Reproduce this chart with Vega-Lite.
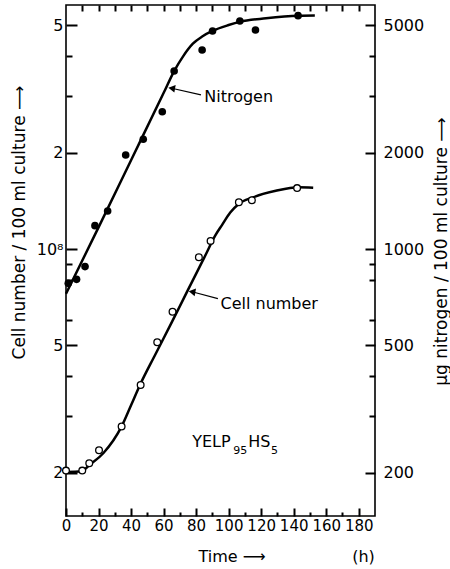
{
  "$schema": "https://vega.github.io/schema/vega-lite/v6.json",
  "width": 309,
  "height": 511,
  "autosize": {"type": "none"},
  "padding": {"left": 66, "top": 5, "right": 75, "bottom": 53},
  "background": "white",
  "config": {
    "font": "DejaVu Sans",
    "view": {"stroke": "black", "strokeWidth": 1.6},
    "axis": {
      "grid": false,
      "labelFont": "DejaVu Sans",
      "titleFont": "DejaVu Sans",
      "labelColor": "black",
      "titleColor": "black",
      "labelFontSize": 16,
      "titleFontSize": 17,
      "titleFontWeight": "normal",
      "labelOverlap": false
    }
  },
  "datasets": {
    "cellObs": [
      {"t": 0, "v": 2.03e7}, {"t": 10, "v": 2.03e7}, {"t": 14.3, "v": 2.14e7},
      {"t": 20.3, "v": 2.35e7}, {"t": 34.2, "v": 2.79e7}, {"t": 45.9, "v": 3.76e7},
      {"t": 56.1, "v": 5.11e7}, {"t": 65.5, "v": 6.37e7}, {"t": 81.7, "v": 9.42e7},
      {"t": 88.9, "v": 1.06e8}, {"t": 106.3, "v": 1.40e8}, {"t": 114.3, "v": 1.42e8},
      {"t": 142.1, "v": 1.55e8}
    ],
    "cellFit": [
      {"t": 0, "v": 2.01e7}, {"t": 9.6, "v": 2.02e7}, {"t": 14.7, "v": 2.12e7},
      {"t": 22.9, "v": 2.30e7}, {"t": 34.2, "v": 2.79e7}, {"t": 40, "v": 3.25e7},
      {"t": 45.5, "v": 3.76e7}, {"t": 55, "v": 4.69e7}, {"t": 65, "v": 5.90e7},
      {"t": 75, "v": 7.45e7}, {"t": 85, "v": 9.40e7}, {"t": 92, "v": 1.107e8},
      {"t": 96, "v": 1.19e8}, {"t": 101, "v": 1.30e8}, {"t": 106, "v": 1.38e8},
      {"t": 115, "v": 1.45e8}, {"t": 129, "v": 1.52e8}, {"t": 143, "v": 1.56e8},
      {"t": 152, "v": 1.555e8}
    ],
    "nitroObs": [
      {"t": 1.4, "v": 781}, {"t": 6.5, "v": 804}, {"t": 11.7, "v": 881},
      {"t": 17.8, "v": 1183}, {"t": 25.6, "v": 1314}, {"t": 36.7, "v": 1966},
      {"t": 47.5, "v": 2203}, {"t": 59.2, "v": 2685}, {"t": 66.5, "v": 3598},
      {"t": 83.7, "v": 4188}, {"t": 90.1, "v": 4801}, {"t": 106.9, "v": 5158},
      {"t": 116.5, "v": 4834}, {"t": 142.7, "v": 5360}
    ],
    "nitroFit": [
      {"t": 0, "v": 725}, {"t": 20, "v": 1168}, {"t": 40, "v": 1894},
      {"t": 60, "v": 3072}, {"t": 66.5, "v": 3598}, {"t": 72, "v": 4000},
      {"t": 78, "v": 4380}, {"t": 84, "v": 4620}, {"t": 90, "v": 4800},
      {"t": 100, "v": 5010}, {"t": 107, "v": 5130}, {"t": 123, "v": 5260},
      {"t": 143, "v": 5360}, {"t": 153, "v": 5370}
    ],
    "notes": [
      {"t": 85, "v": 2.99e8, "txt": "Nitrogen"},
      {"t": 95, "v": 6.73e7, "txt": "Cell number"},
      {"t": 77.6, "v": 2.5e7, "txt": "YELP"},
      {"t": 112.0, "v": 2.5e7, "txt": "HS"}
    ],
    "subs": [
      {"t": 102.8, "v": 2.33e7, "txt": "95"},
      {"t": 126, "v": 2.33e7, "txt": "5"}
    ],
    "arrows": [
      {"t": 83, "v": 3.03e8, "t2": 65, "v2": 3.18e8},
      {"t": 93.4, "v": 7.0e7, "t2": 77.5, "v2": 7.35e7}
    ],
    "heads": [
      {"t": 65, "v": 3.18e8},
      {"t": 77.5, "v": 7.35e7}
    ]
  },
  "resolve": {
    "scale": {"y": "independent"},
    "axis": {"x": "independent", "y": "independent"}
  },
  "layer": [
    {
      "data": {"name": "cellFit"},
      "mark": {"type": "line", "color": "black", "strokeWidth": 2.5, "interpolate": "monotone"},
      "encoding": {
        "x": {"field": "t", "type": "quantitative",
              "scale": {"domain": [0, 190], "nice": false, "zero": false}, "axis": null},
        "y": {"field": "v", "type": "quantitative",
              "scale": {"type": "log", "domain": [1.4645e7, 5.787e8], "nice": false}, "axis": null}
      }
    },
    {
      "data": {"name": "nitroFit"},
      "mark": {"type": "line", "color": "black", "strokeWidth": 2.5, "interpolate": "monotone"},
      "encoding": {
        "x": {"field": "t", "type": "quantitative",
              "scale": {"domain": [0, 190], "nice": false, "zero": false}, "axis": null},
        "y": {"field": "v", "type": "quantitative",
              "scale": {"type": "log", "domain": [146.45, 5787], "nice": false}, "axis": null}
      }
    },
    {
      "data": {"name": "cellObs"},
      "mark": {"type": "point", "shape": "circle", "filled": true, "fill": "white", "stroke": "black", "strokeWidth": 1.3, "size": 45, "opacity": 1},
      "encoding": {
        "x": {"field": "t", "type": "quantitative",
              "scale": {"domain": [0, 190], "nice": false, "zero": false},
              "axis": {"orient": "bottom", "values": [0, 20, 40, 60, 80, 100, 120, 140, 160, 180],
                       "domain": false, "tickSize": -8, "tickColor": "black", "tickWidth": 2, "labelPadding": 10, "labelFontSize": 15, "labelFlush": false,
                       "title": "Time ⟶\u00a0\u00a0\u00a0\u00a0\u00a0\u00a0\u00a0\u00a0\u00a0\u00a0\u00a0\u00a0\u00a0\u00a0\u00a0\u00a0\u00a0(h)", "titleFontSize": 16,
                       "titleX": 132, "titleY": 40, "titleAlign": "left", "titleBaseline": "middle"}},
        "y": {"field": "v", "type": "quantitative",
              "scale": {"type": "log", "domain": [1.4645e7, 5.787e8], "nice": false},
              "axis": {"orient": "left", "values": [2e7, 5e7, 1e8, 2e8, 5e8],
                       "domain": false, "tickSize": -11, "tickColor": "black", "tickWidth": 2, "labelPadding": 14,
                       "labelExpr": "datum.value == 1e8 ? '10⁸' : ((datum.value == 2e7 || datum.value == 2e8) ? '2' : '5')",
                       "title": "Cell number / 100 ml culture ⟶",
                       "titleX": -47, "titleY": 217, "titleAngle": 270, "titleAlign": "center", "titleBaseline": "middle"}}
      }
    },
    {
      "data": {"name": "nitroObs"},
      "mark": {"type": "point", "shape": "circle", "filled": true, "color": "black", "size": 58, "opacity": 1},
      "encoding": {
        "x": {"field": "t", "type": "quantitative",
              "scale": {"domain": [0, 190], "nice": false, "zero": false},
              "axis": {"orient": "top", "values": [10, 20, 30, 40, 50, 60, 70, 80, 90, 100, 110, 120, 130, 140, 150, 160, 170, 180],
                       "domain": false, "tickSize": -6, "tickColor": "black", "tickWidth": 2, "labels": false, "title": null}},
        "y": {"field": "v", "type": "quantitative",
              "scale": {"type": "log", "domain": [146.45, 5787], "nice": false},
              "axis": {"orient": "right", "values": [200, 500, 1000, 2000, 5000], "format": "d",
                       "domain": false, "tickSize": -10, "tickColor": "black", "tickWidth": 2, "labelPadding": 18,
                       "title": "µg nitrogen / 100 ml culture ⟶",
                       "titleX": 66, "titleY": 246, "titleAngle": 270, "titleAlign": "center", "titleBaseline": "middle"}}
      }
    },
    {
      "data": {"name": "arrows"},
      "mark": {"type": "rule", "color": "black", "strokeWidth": 1.2},
      "encoding": {
        "x": {"field": "t", "type": "quantitative", "scale": {"domain": [0, 190], "nice": false, "zero": false}, "axis": null},
        "x2": {"field": "t2"},
        "y": {"field": "v", "type": "quantitative", "scale": {"type": "log", "domain": [1.4645e7, 5.787e8], "nice": false}, "axis": null},
        "y2": {"field": "v2"}
      }
    },
    {
      "data": {"name": "heads"},
      "mark": {"type": "point", "shape": "triangle-left", "filled": true, "color": "black", "size": 60, "angle": 10, "opacity": 1},
      "encoding": {
        "x": {"field": "t", "type": "quantitative", "scale": {"domain": [0, 190], "nice": false, "zero": false},
              "axis": {"orient": "bottom", "values": [10, 30, 50, 70, 90, 110, 130, 150, 170],
                       "domain": false, "tickSize": -4, "tickColor": "black", "tickWidth": 2, "labels": false, "title": null}},
        "y": {"field": "v", "type": "quantitative", "scale": {"type": "log", "domain": [1.4645e7, 5.787e8], "nice": false},
              "axis": {"orient": "left", "values": [3e7, 4e7, 6e7, 8e7, 9e7, 3e8, 4e8],
                       "domain": false, "tickSize": -6, "tickColor": "black", "tickWidth": 2, "labels": false, "title": null}}
      }
    },
    {
      "data": {"name": "notes"},
      "mark": {"type": "text", "align": "left", "baseline": "middle", "fontSize": 16, "font": "DejaVu Sans", "color": "black"},
      "encoding": {
        "x": {"field": "t", "type": "quantitative", "scale": {"domain": [0, 190], "nice": false, "zero": false}, "axis": null},
        "y": {"field": "v", "type": "quantitative", "scale": {"type": "log", "domain": [1.4645e7, 5.787e8], "nice": false},
              "axis": {"orient": "right", "values": [3e7, 4e7, 6e7, 8e7, 9e7, 3e8, 4e8],
                       "domain": false, "tickSize": -6, "tickColor": "black", "tickWidth": 2, "labels": false, "title": null}},
        "text": {"field": "txt"}
      }
    },
    {
      "data": {"name": "subs"},
      "mark": {"type": "text", "align": "left", "baseline": "middle", "fontSize": 11, "font": "DejaVu Sans", "color": "black"},
      "encoding": {
        "x": {"field": "t", "type": "quantitative", "scale": {"domain": [0, 190], "nice": false, "zero": false}, "axis": null},
        "y": {"field": "v", "type": "quantitative", "scale": {"type": "log", "domain": [1.4645e7, 5.787e8], "nice": false}, "axis": null},
        "text": {"field": "txt"}
      }
    }
  ]
}
